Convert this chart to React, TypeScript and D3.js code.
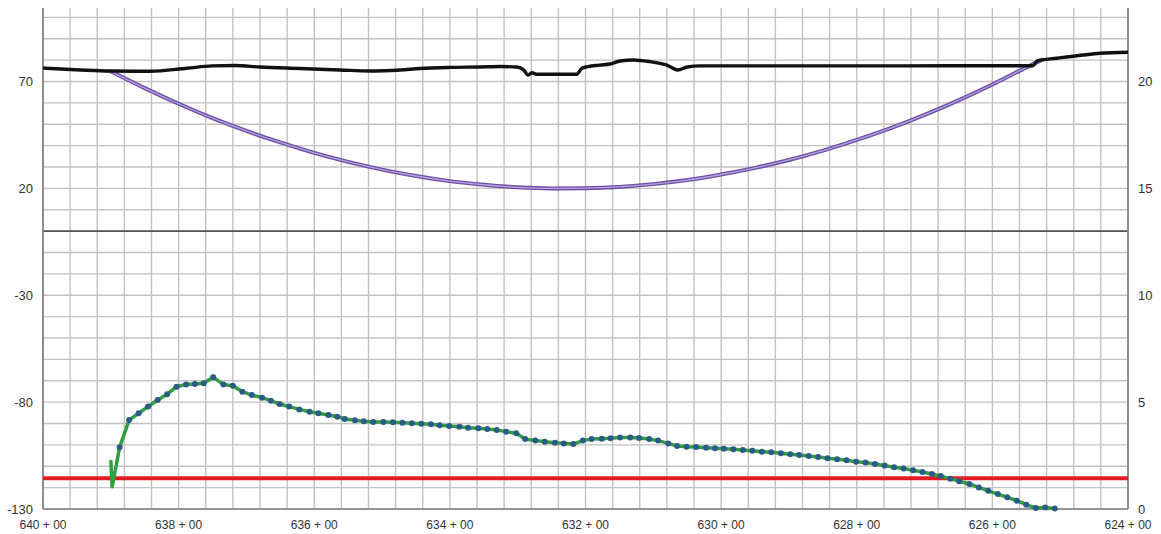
import React from "react";
import * as d3 from "d3";

// Station axis (hundreds of feet), reversed: 640+00 on the left, 624+00 on the right
const stationTicks = [640, 638, 636, 634, 632, 630, 628, 626, 624];
const leftTicks = [-130, -80, -30, 20, 70];
const rightTicks = [0, 5, 10, 15, 20];

// Ground profile (black), left axis
const groundStations = [640.0, 639.45, 639.01, 638.42, 637.88, 637.51, 637.17, 636.8, 636.21, 635.62, 635.18, 634.73, 634.44, 634.0, 633.56, 633.26, 633.01, 632.91, 632.85, 632.79, 632.72, 632.13, 632.05, 631.79, 631.64, 631.49, 631.29, 631.05, 630.8, 630.64, 630.5, 630.31, 628.84, 627.36, 625.89, 625.4, 625.34, 625.05, 624.66, 624.41, 624.0];
const groundElev = [76.3, 75.4, 74.9, 74.8, 76.2, 77.3, 77.5, 76.8, 76.1, 75.4, 74.9, 75.4, 76.1, 76.6, 76.8, 77.0, 76.8, 75.4, 73.0, 74.1, 73.4, 73.4, 76.3, 77.7, 78.2, 79.6, 80.1, 79.3, 77.7, 75.4, 76.8, 77.3, 77.3, 77.3, 77.4, 77.4, 79.7, 80.9, 82.4, 83.2, 83.7];

// Bore profile (purple), left axis
const boreStations = [639.01, 638.5, 638.0, 637.5, 637.0, 636.5, 636.0, 635.5, 635.0, 634.5, 634.0, 633.5, 633.0, 632.5, 632.0, 631.5, 631.0, 630.5, 630.0, 629.5, 629.0, 628.5, 628.0, 627.5, 627.0, 626.5, 626.0, 625.5, 625.25];
const boreElev = [74.9, 66.9, 59.6, 52.9, 46.9, 41.5, 36.6, 32.4, 28.8, 25.8, 23.4, 21.7, 20.5, 20.0, 20.1, 20.7, 22.0, 23.9, 26.5, 29.6, 33.3, 37.7, 42.7, 48.2, 54.4, 61.2, 68.6, 76.6, 80.4];

// Depth of cover (green with markers), right axis
const coverStations = [639.0, 638.98, 638.87, 638.73, 638.59, 638.45, 638.31, 638.17, 638.03, 637.89, 637.76, 637.63, 637.49, 637.34, 637.2, 637.06, 636.92, 636.77, 636.64, 636.51, 636.37, 636.22, 636.07, 635.94, 635.79, 635.66, 635.55, 635.4, 635.27, 635.13, 634.98, 634.84, 634.7, 634.56, 634.42, 634.28, 634.15, 634.01, 633.86, 633.73, 633.58, 633.45, 633.31, 633.17, 633.02, 632.89, 632.74, 632.6, 632.45, 632.32, 632.18, 632.04, 631.91, 631.76, 631.63, 631.49, 631.34, 631.21, 631.06, 630.93, 630.78, 630.65, 630.51, 630.37, 630.22, 630.09, 629.96, 629.82, 629.68, 629.54, 629.4, 629.26, 629.12, 628.98, 628.85, 628.71, 628.57, 628.43, 628.29, 628.15, 628.01, 627.87, 627.73, 627.59, 627.45, 627.31, 627.17, 627.03, 626.89, 626.76, 626.62, 626.49, 626.34, 626.2, 626.06, 625.92, 625.78, 625.64, 625.5, 625.36, 625.22, 625.08];
const coverDepth = [2.29, 1.04, 2.89, 4.16, 4.48, 4.79, 5.1, 5.37, 5.72, 5.83, 5.85, 5.88, 6.16, 5.83, 5.77, 5.49, 5.33, 5.21, 5.07, 4.91, 4.79, 4.66, 4.55, 4.48, 4.4, 4.32, 4.21, 4.15, 4.1, 4.07, 4.07, 4.06, 4.04, 4.01, 3.99, 3.96, 3.92, 3.88, 3.85, 3.8, 3.78, 3.74, 3.7, 3.62, 3.54, 3.27, 3.2, 3.15, 3.1, 3.07, 3.04, 3.2, 3.27, 3.29, 3.31, 3.35, 3.35, 3.32, 3.27, 3.2, 3.07, 2.95, 2.91, 2.9, 2.87, 2.84, 2.82, 2.79, 2.76, 2.73, 2.68, 2.65, 2.61, 2.56, 2.53, 2.48, 2.43, 2.37, 2.33, 2.28, 2.21, 2.17, 2.11, 2.03, 1.95, 1.89, 1.81, 1.73, 1.64, 1.54, 1.42, 1.3, 1.17, 1.01, 0.85, 0.7, 0.55, 0.39, 0.2, 0.05, 0.07, 0.02];

// Minimum cover requirement (red), right axis
const minCover = 1.44;

const W = 1161;
const H = 534;
const FONT = "'Liberation Sans', Arial, sans-serif";

export default function App() {
  const x = d3.scaleLinear().domain([640, 624]).range([43, 1128]);
  const yL = d3.scaleLinear().domain([-130, 104.4]).range([509, 8]);
  const yR = d3.scaleLinear().domain([0, 23.44]).range([509, 8]);

  const vGrid = d3.range(0, 41).map((i) => 640 - i * 0.4);
  const hGrid = d3.range(-130, 101, 10);

  const groundLine = d3
    .line<number>()
    .x((_, i) => x(groundStations[i]))
    .y((d) => yL(d))
    .curve(d3.curveMonotoneX);
  const boreLine = d3
    .line<number>()
    .x((_, i) => x(boreStations[i]))
    .y((d) => yL(d))
    .curve(d3.curveMonotoneX);
  const coverLine = d3
    .line<number>()
    .x((_, i) => x(coverStations[i]))
    .y((d) => yR(d));

  const [x0, x1] = x.range();

  return (
    <svg
      width={W}
      height={H}
      style={{ position: "absolute", left: 0, top: 0, background: "#fff" }}
    >
      {/* grid */}
      <g>
        {vGrid.map((s, i) => (
          <line
            key={"v" + i}
            x1={x(s)}
            x2={x(s)}
            y1={8}
            y2={509}
            stroke="#c2c2c2"
            strokeWidth={1.4}
          />
        ))}
        {hGrid.map((v) => (
          <line
            key={"h" + v}
            x1={x0}
            x2={x1}
            y1={yL(v)}
            y2={yL(v)}
            stroke="#c2c2c2"
            strokeWidth={1.4}
          />
        ))}
        <line x1={x0} x2={x1} y1={yL(0)} y2={yL(0)} stroke="#555" strokeWidth={1.6} />
      </g>

      {/* axes frame */}
      <line x1={x0} x2={x0} y1={8} y2={509} stroke="#808080" strokeWidth={1.7} />
      <line x1={x1} x2={x1} y1={8} y2={509} stroke="#808080" strokeWidth={1.7} />
      <line x1={x0} x2={x1} y1={509} y2={509} stroke="#808080" strokeWidth={1.7} />

      {/* red minimum cover line */}
      <line
        x1={x0}
        x2={x1}
        y1={yR(minCover)}
        y2={yR(minCover)}
        stroke="#e31b23"
        strokeWidth={4}
      />

      {/* bore (purple double line) */}
      <path d={boreLine(boreElev) || ""} fill="none" stroke="#6c4ea4" strokeWidth={4} />
      <path d={boreLine(boreElev) || ""} fill="none" stroke="#b8a5de" strokeWidth={1.3} />

      {/* ground (black) */}
      <path
        d={groundLine(groundElev) || ""}
        fill="none"
        stroke="#111"
        strokeWidth={3.4}
        strokeLinejoin="round"
      />

      {/* cover depth (green + markers) */}
      <path
        d={coverLine(coverDepth) || ""}
        fill="none"
        stroke="#2f9e3f"
        strokeWidth={3.5}
        strokeLinejoin="round"
      />
      {coverDepth.map((d, i) =>
        i < 2 ? null : (
          <circle
            key={"m" + i}
            cx={x(coverStations[i])}
            cy={yR(d)}
            r={3}
            fill="#2c5b88"
          />
        )
      )}

      {/* left labels */}
      {leftTicks.map((v) => (
        <text
          key={"l" + v}
          x={33}
          y={yL(v)}
          dy="0.35em"
          textAnchor="end"
          fontFamily={FONT}
          fontSize={13}
          fill="#333"
        >
          {v}
        </text>
      ))}
      {/* right labels */}
      {rightTicks.map((v) => (
        <text
          key={"r" + v}
          x={1138}
          y={yR(v)}
          dy="0.35em"
          textAnchor="start"
          fontFamily={FONT}
          fontSize={13}
          fill="#333"
        >
          {v}
        </text>
      ))}
      {/* station labels */}
      {stationTicks.map((s) => (
        <text
          key={"s" + s}
          x={x(s)}
          y={529}
          textAnchor="middle"
          fontFamily={FONT}
          fontSize={12}
          fill="#333"
        >
          {`${s} + 00`}
        </text>
      ))}
    </svg>
  );
}
